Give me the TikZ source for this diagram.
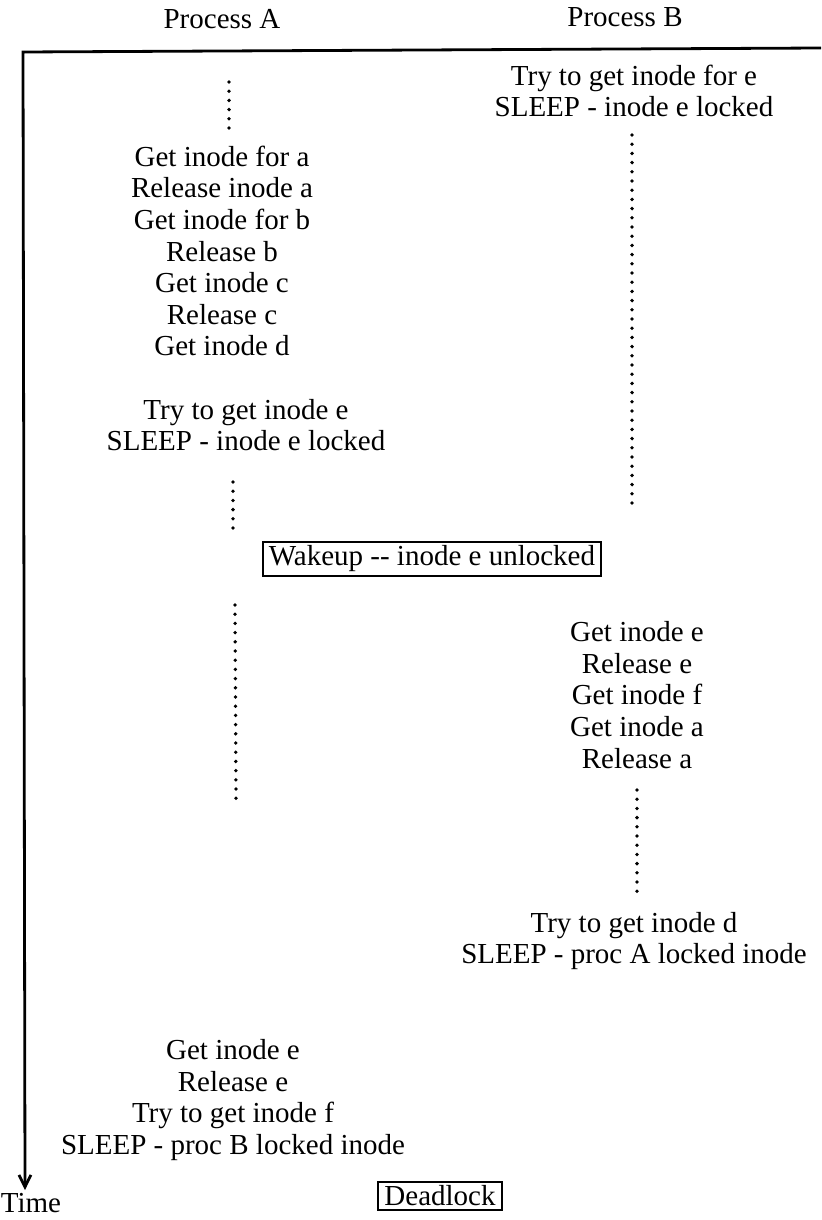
\documentclass[tikz,border=0pt]{standalone}
\usepackage{fontspec}
\setmainfont{Liberation Serif}
\usetikzlibrary{arrows.meta,positioning}

\begin{document}
\begin{tikzpicture}[
  x=0.5pt, y=-0.5pt,
  event/.style={align=center, inner sep=0pt, font=\fontsize{14.5}{15.8}\selectfont},
  flag/.style={draw, line width=1pt, inner xsep=3pt, inner ysep=2pt, font=\fontsize{14.5}{15.8}\selectfont},
  wait/.style={line width=1.9pt, line cap=round, dash pattern=on 0pt off 4.6pt},
  frame/.style={line width=1.4pt}
]
\useasboundingbox (0,0) rectangle (821,1220);

% column heads and time axis
\node[event] (procA) at (222,19) {Process A};
\node[event] (procB) at (625,17) {Process B};
\coordinate (corner) at (23,52);
\coordinate (topend) at (821,48);
\coordinate (timeend) at (25,1190);
\draw[frame, -{Straight Barb[length=6pt,width=6pt]}] (topend) -- (corner) -- (timeend);
\node[event] (time) at (31,1203) {Time};

% process A
\node[event] (getA) at (222,251) {Get inode for a\\Release inode a\\Get inode for b\\Release b\\Get inode c\\Release c\\Get inode d};
\node[event] (tryA) at (246,425) {Try to get inode e\\SLEEP - inode e locked};
\node[event] (lockA) at (233,1100) {Get inode e\\Release e\\Try to get inode f\\SLEEP - proc B locked inode};
\coordinate (a0) at (229,82);
\coordinate (a1) at (229,135);
\coordinate (a2) at (233,482);
\coordinate (a3) at (233,528);
\coordinate (a4) at (235,605);
\coordinate (a5) at (236,800);
\draw[wait] (a0) -- (a1);
\draw[wait] (a2) -- (a3);
\draw[wait] (a4) -- (a5);

% process B
\node[event] (tryB) at (634,91) {Try to get inode for e\\SLEEP - inode e locked};
\node[event] (getB) at (637,695) {Get inode e\\Release e\\Get inode f\\Get inode a\\Release a};
\node[event] (lockB) at (634,941) {Try to get inode d\\SLEEP - proc A locked inode};
\coordinate (b1) at (632,135);
\coordinate (b2) at (632,512);
\coordinate (b3) at (637,790);
\coordinate (b4) at (637,895);
\draw[wait] (b1) -- (b2);
\draw[wait] (b3) -- (b4);

% events
\node[flag] (wake) at (432,559) {Wakeup -{}- inode e unlocked};
\node[flag] (dead) at (440,1196) {Deadlock};
\end{tikzpicture}
\end{document}
